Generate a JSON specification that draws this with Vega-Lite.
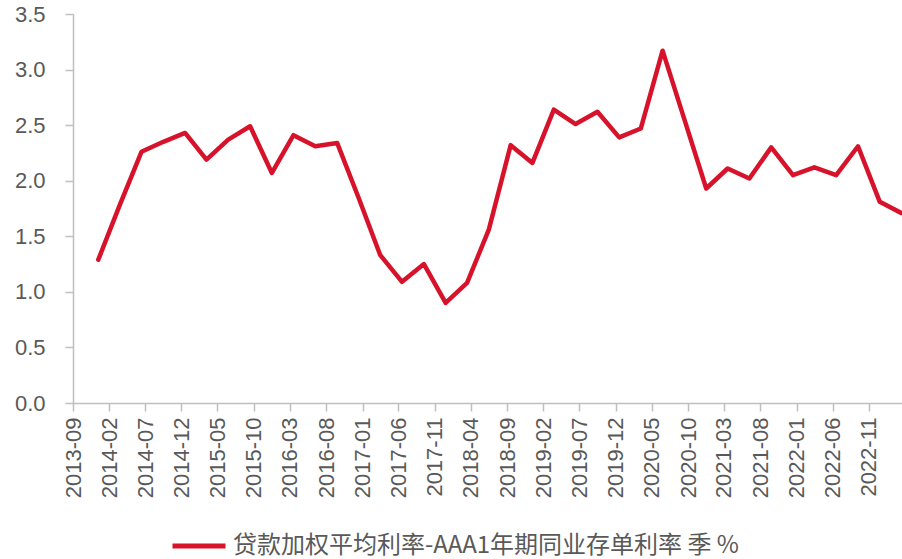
{
  "$schema": "https://vega.github.io/schema/vega-lite/v6.json",
  "width": 829,
  "height": 389,
  "autosize": {"type": "none"},
  "padding": {"left": 73, "top": 14, "right": 0, "bottom": 156},
  "background": "white",
  "config": {
    "view": {"stroke": null}
  },
  "data": {
    "values": [
      {"date": "2013-12-01", "value": 1.29, "series": "贷款加权平均利率-AAA1年期同业存单利率 季 %"},
      {"date": "2014-03-01", "value": 1.78, "series": "贷款加权平均利率-AAA1年期同业存单利率 季 %"},
      {"date": "2014-06-01", "value": 2.26, "series": "贷款加权平均利率-AAA1年期同业存单利率 季 %"},
      {"date": "2014-09-01", "value": 2.35, "series": "贷款加权平均利率-AAA1年期同业存单利率 季 %"},
      {"date": "2014-12-01", "value": 2.43, "series": "贷款加权平均利率-AAA1年期同业存单利率 季 %"},
      {"date": "2015-03-01", "value": 2.19, "series": "贷款加权平均利率-AAA1年期同业存单利率 季 %"},
      {"date": "2015-06-01", "value": 2.37, "series": "贷款加权平均利率-AAA1年期同业存单利率 季 %"},
      {"date": "2015-09-01", "value": 2.49, "series": "贷款加权平均利率-AAA1年期同业存单利率 季 %"},
      {"date": "2015-12-01", "value": 2.07, "series": "贷款加权平均利率-AAA1年期同业存单利率 季 %"},
      {"date": "2016-03-01", "value": 2.41, "series": "贷款加权平均利率-AAA1年期同业存单利率 季 %"},
      {"date": "2016-06-01", "value": 2.31, "series": "贷款加权平均利率-AAA1年期同业存单利率 季 %"},
      {"date": "2016-09-01", "value": 2.34, "series": "贷款加权平均利率-AAA1年期同业存单利率 季 %"},
      {"date": "2016-12-01", "value": 1.84, "series": "贷款加权平均利率-AAA1年期同业存单利率 季 %"},
      {"date": "2017-03-01", "value": 1.33, "series": "贷款加权平均利率-AAA1年期同业存单利率 季 %"},
      {"date": "2017-06-01", "value": 1.09, "series": "贷款加权平均利率-AAA1年期同业存单利率 季 %"},
      {"date": "2017-09-01", "value": 1.25, "series": "贷款加权平均利率-AAA1年期同业存单利率 季 %"},
      {"date": "2017-12-01", "value": 0.90, "series": "贷款加权平均利率-AAA1年期同业存单利率 季 %"},
      {"date": "2018-03-01", "value": 1.08, "series": "贷款加权平均利率-AAA1年期同业存单利率 季 %"},
      {"date": "2018-06-01", "value": 1.56, "series": "贷款加权平均利率-AAA1年期同业存单利率 季 %"},
      {"date": "2018-09-01", "value": 2.32, "series": "贷款加权平均利率-AAA1年期同业存单利率 季 %"},
      {"date": "2018-12-01", "value": 2.16, "series": "贷款加权平均利率-AAA1年期同业存单利率 季 %"},
      {"date": "2019-03-01", "value": 2.64, "series": "贷款加权平均利率-AAA1年期同业存单利率 季 %"},
      {"date": "2019-06-01", "value": 2.51, "series": "贷款加权平均利率-AAA1年期同业存单利率 季 %"},
      {"date": "2019-09-01", "value": 2.62, "series": "贷款加权平均利率-AAA1年期同业存单利率 季 %"},
      {"date": "2019-12-01", "value": 2.39, "series": "贷款加权平均利率-AAA1年期同业存单利率 季 %"},
      {"date": "2020-03-01", "value": 2.47, "series": "贷款加权平均利率-AAA1年期同业存单利率 季 %"},
      {"date": "2020-06-01", "value": 3.17, "series": "贷款加权平均利率-AAA1年期同业存单利率 季 %"},
      {"date": "2020-09-01", "value": 2.55, "series": "贷款加权平均利率-AAA1年期同业存单利率 季 %"},
      {"date": "2020-12-01", "value": 1.93, "series": "贷款加权平均利率-AAA1年期同业存单利率 季 %"},
      {"date": "2021-03-01", "value": 2.11, "series": "贷款加权平均利率-AAA1年期同业存单利率 季 %"},
      {"date": "2021-06-01", "value": 2.02, "series": "贷款加权平均利率-AAA1年期同业存单利率 季 %"},
      {"date": "2021-09-01", "value": 2.30, "series": "贷款加权平均利率-AAA1年期同业存单利率 季 %"},
      {"date": "2021-12-01", "value": 2.05, "series": "贷款加权平均利率-AAA1年期同业存单利率 季 %"},
      {"date": "2022-03-01", "value": 2.12, "series": "贷款加权平均利率-AAA1年期同业存单利率 季 %"},
      {"date": "2022-06-01", "value": 2.05, "series": "贷款加权平均利率-AAA1年期同业存单利率 季 %"},
      {"date": "2022-09-01", "value": 2.31, "series": "贷款加权平均利率-AAA1年期同业存单利率 季 %"},
      {"date": "2022-12-01", "value": 1.81, "series": "贷款加权平均利率-AAA1年期同业存单利率 季 %"},
      {"date": "2023-03-01", "value": 1.71, "series": "贷款加权平均利率-AAA1年期同业存单利率 季 %"}
    ]
  },
  "mark": {"type": "line", "strokeWidth": 4.5, "strokeCap": "round", "strokeJoin": "round", "clip": true},
  "encoding": {
    "x": {
      "field": "date",
      "type": "temporal",
      "timeUnit": "utcyearmonth",
      "bandPosition": 0.5,
      "scale": {"domain": [{"year": 2013, "month": 9, "date": 1, "utc": true}, {"year": 2023, "month": 3, "date": 20, "utc": true}]},
      "axis": {
        "title": null,
        "grid": false,
        "values": [
          {"year": 2013, "month": 9, "date": 1, "utc": true},
          {"year": 2014, "month": 2, "date": 1, "utc": true},
          {"year": 2014, "month": 7, "date": 1, "utc": true},
          {"year": 2014, "month": 12, "date": 1, "utc": true},
          {"year": 2015, "month": 5, "date": 1, "utc": true},
          {"year": 2015, "month": 10, "date": 1, "utc": true},
          {"year": 2016, "month": 3, "date": 1, "utc": true},
          {"year": 2016, "month": 8, "date": 1, "utc": true},
          {"year": 2017, "month": 1, "date": 1, "utc": true},
          {"year": 2017, "month": 6, "date": 1, "utc": true},
          {"year": 2017, "month": 11, "date": 1, "utc": true},
          {"year": 2018, "month": 4, "date": 1, "utc": true},
          {"year": 2018, "month": 9, "date": 1, "utc": true},
          {"year": 2019, "month": 2, "date": 1, "utc": true},
          {"year": 2019, "month": 7, "date": 1, "utc": true},
          {"year": 2019, "month": 12, "date": 1, "utc": true},
          {"year": 2020, "month": 5, "date": 1, "utc": true},
          {"year": 2020, "month": 10, "date": 1, "utc": true},
          {"year": 2021, "month": 3, "date": 1, "utc": true},
          {"year": 2021, "month": 8, "date": 1, "utc": true},
          {"year": 2022, "month": 1, "date": 1, "utc": true},
          {"year": 2022, "month": 6, "date": 1, "utc": true},
          {"year": 2022, "month": 11, "date": 1, "utc": true}
        ],
        "labelExpr": "utcFormat(datum.value, '%Y-%m')",
        "labelAngle": 270,
        "labelAlign": "right",
        "labelBaseline": "middle",
        "labelFont": "Liberation Sans",
        "labelFontSize": 22,
        "labelColor": "#595959",
        "labelPadding": 6,
        "labelOverlap": false,
        "labelFlush": false,
        "tickColor": "#bfbfbf",
        "tickSize": 8,
        "tickWidth": 1.5,
        "domainColor": "#bfbfbf",
        "domainWidth": 1.5
      }
    },
    "y": {
      "field": "value",
      "type": "quantitative",
      "scale": {"domain": [0, 3.5], "nice": false, "zero": true},
      "axis": {
        "title": null,
        "grid": false,
        "values": [0, 0.5, 1, 1.5, 2, 2.5, 3, 3.5],
        "format": ".1f",
        "labelFont": "Liberation Sans",
        "labelFontSize": 22,
        "labelColor": "#595959",
        "labelPadding": 20,
        "tickColor": "#bfbfbf",
        "tickSize": 8,
        "tickWidth": 1.5,
        "domainColor": "#bfbfbf",
        "domainWidth": 1.5
      }
    },
    "color": {
      "field": "series",
      "type": "nominal",
      "scale": {"range": ["#d7132b"]},
      "legend": {
        "orient": "none",
        "legendX": 97,
        "legendY": 503,
        "title": null,
        "labelFont": "Noto Sans CJK SC",
        "labelFontSize": 24,
        "labelColor": "#595959",
        "labelLimit": 800,
        "labelOffset": 5,
        "symbolType": "stroke",
        "symbolSize": 2809,
        "symbolStrokeWidth": 5
      }
    }
  }
}
